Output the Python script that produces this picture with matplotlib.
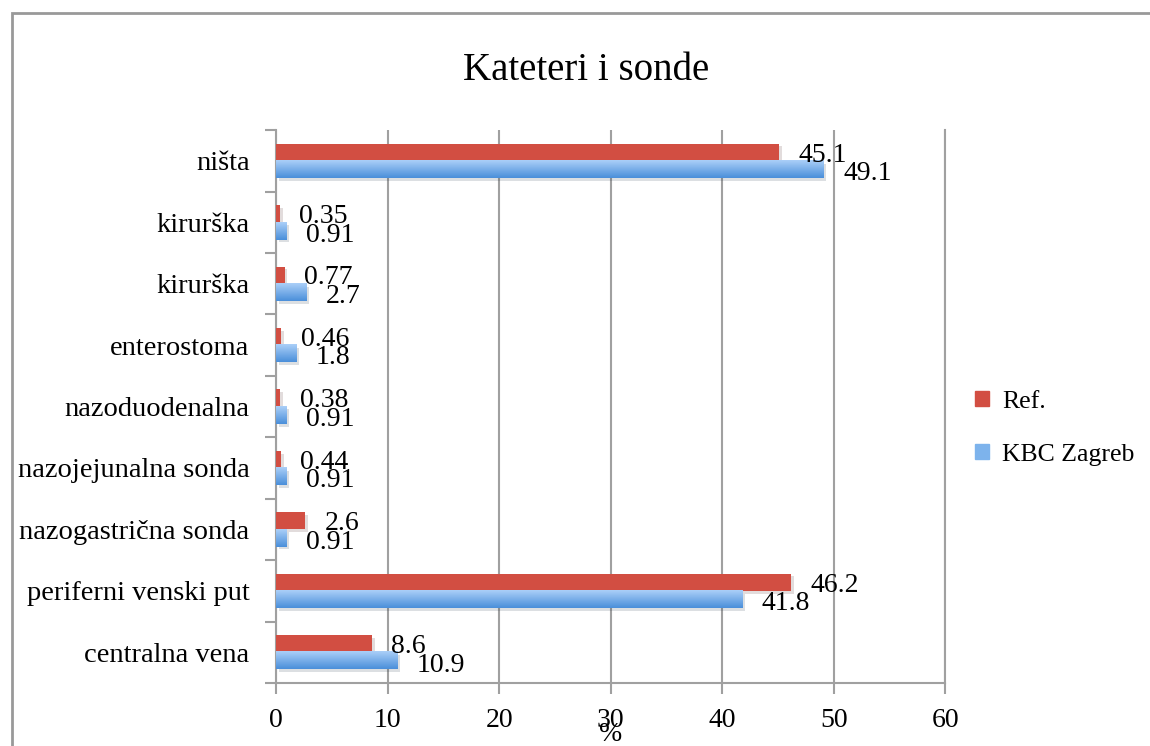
import numpy as np
import matplotlib.pyplot as plt
import matplotlib.patheffects as pe
from matplotlib.colors import LinearSegmentedColormap
from matplotlib.patches import Rectangle

plt.rcParams['font.family'] = ['Liberation Serif', 'DejaVu Serif']

categories = ['centralna vena', 'periferni venski put', 'nazogastrična sonda',
              'nazojejunalna sonda', 'nazoduodenalna', 'enterostoma',
              'kirurška', 'kirurška', 'ništa']
ref_vals = [8.6, 46.2, 2.6, 0.44, 0.38, 0.46, 0.77, 0.35, 45.1]
kbc_vals = [10.9, 41.8, 0.91, 0.91, 0.91, 1.8, 2.7, 0.91, 49.1]
ref_labels = ['8.6', '46.2', '2.6', '0.44', '0.38', '0.46', '0.77', '0.35', '45.1']
kbc_labels = ['10.9', '41.8', '0.91', '0.91', '0.91', '1.8', '2.7', '0.91', '49.1']
series = ['Ref.', 'KBC Zagreb']

red = '#D24E42'
blue_top, blue_bot = '#ABCFF8', '#4A8FDA'
gray = '#A0A0A0'

fig = plt.figure(figsize=(11.5, 7.46), dpi=100)
ax = fig.add_axes([0.240, 0.0845, 0.582, 0.741])

y = np.arange(len(categories))
h = 0.28
shadow = [pe.SimplePatchShadow(offset=(2, -2), alpha=0.15), pe.Normal()]

ref_bars = ax.barh(y + h / 2, ref_vals, height=h, color=red, zorder=3)
kbc_bars = ax.barh(y - h / 2, kbc_vals, height=h, color=blue_bot, zorder=3)
for b in list(ref_bars) + list(kbc_bars):
    b.set_path_effects(shadow)

# gradient fill on the blue bars
cmap = LinearSegmentedColormap.from_list('kbc', [blue_bot, blue_top])
grad = np.linspace(0, 1, 64).reshape(-1, 1)
for b in kbc_bars:
    x0, y0, w, hh = b.get_x(), b.get_y(), b.get_width(), b.get_height()
    ax.imshow(grad, extent=[x0, x0 + w, y0, y0 + hh], origin='lower',
              aspect='auto', cmap=cmap, zorder=4)

for b, lab in zip(ref_bars, ref_labels):
    ax.annotate(lab, (b.get_width(), b.get_y() + b.get_height() / 2),
                xytext=(14, -2), textcoords='offset points',
                va='center', ha='left', fontsize=20, zorder=6)
for b, lab in zip(kbc_bars, kbc_labels):
    ax.annotate(lab, (b.get_width(), b.get_y() + b.get_height() / 2),
                xytext=(14, -3), textcoords='offset points',
                va='center', ha='left', fontsize=20, zorder=6)

ax.set_xlim(0, 60)
ax.set_ylim(-0.5, len(categories) - 0.5)
ax.set_xticks(np.arange(0, 61, 10))
ax.set_yticks(y)
ax.set_yticklabels(categories)
ax.set_yticks(np.arange(-0.5, len(categories)), minor=True)
ax.tick_params(axis='y', which='major', length=0, pad=19, labelsize=20.5)
ax.tick_params(axis='y', which='minor', length=8, width=1.5, color=gray)
ax.tick_params(axis='x', length=8, width=1.5, color=gray, pad=10, labelsize=20)
ax.grid(axis='x', color=gray, linewidth=1.5, zorder=0)
ax.set_axisbelow(True)
for s in ['left', 'bottom', 'right']:
    ax.spines[s].set_color(gray)
    ax.spines[s].set_linewidth(1.5)
ax.spines['top'].set_visible(False)
ax.set_xlabel('%', fontsize=20, labelpad=-8)

fig.text(0.51, 0.906, 'Kateteri i sonde', ha='center', va='center', fontsize=28)

handles = [Rectangle((0, 0), 1, 1, color=red), Rectangle((0, 0), 1, 1, color='#7DB3EC')]
fig.legend(handles, series, loc='center left', bbox_to_anchor=(0.828, 0.426),
           frameon=False, fontsize=18.5, handlelength=0.55, handleheight=0.55,
           handletextpad=0.5, labelspacing=1.2)

# outer chart frame
fig.patches.append(Rectangle((12 / 1150, -0.1), 1.2, 1 - 13 / 746 + 0.1,
                             transform=fig.transFigure, fill=False,
                             edgecolor='#999999', linewidth=2))

fig.savefig('out.png', dpi=100)
